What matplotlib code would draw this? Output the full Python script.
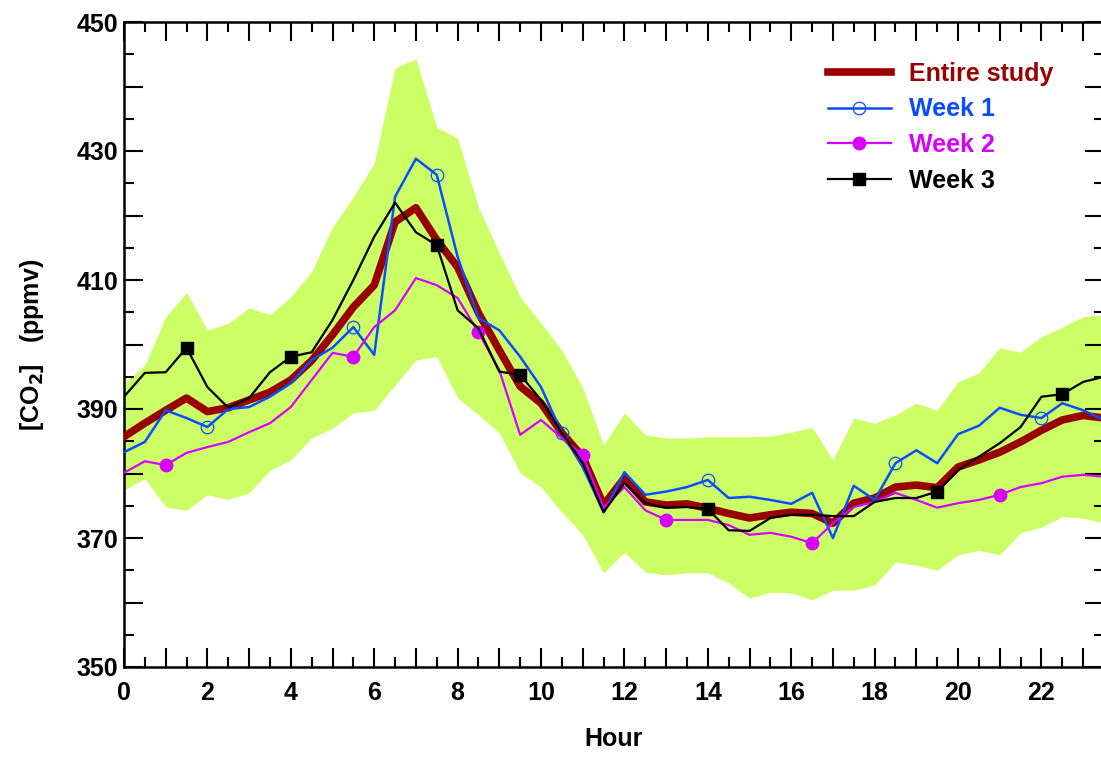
import numpy as np
import matplotlib.pyplot as plt
from matplotlib.ticker import MultipleLocator, FuncFormatter

# half-hour steps, 0 .. 23.5
hours = np.arange(48) * 0.5

entire = [385.7, 387.8, 389.8, 391.7, 389.6, 390.2, 391.4, 392.6, 394.5, 397.5,
          401.5, 405.8, 409.2, 419.0, 421.2, 416.2, 412.0, 404.9, 399.1, 393.5,
          390.9, 386.3, 382.6, 375.1, 379.3, 375.6, 375.1, 375.3, 374.6, 373.8,
          373.1, 373.6, 374.0, 373.8, 372.3, 375.4, 376.2, 377.9, 378.2, 377.8,
          381.0, 382.1, 383.3, 384.9, 386.7, 388.3, 389.0, 388.6]

week1 = [383.3, 384.9, 389.8, 388.6, 387.2, 390.0, 390.3, 391.9, 394.0, 397.6,
         399.5, 402.7, 398.4, 422.9, 428.8, 426.3, 413.6, 404.1, 402.2, 398.1,
         393.4, 386.3, 381.0, 374.0, 380.2, 376.7, 377.2, 377.9, 379.0, 376.2,
         376.4, 375.9, 375.3, 377.0, 370.0, 378.1, 375.9, 381.6, 383.6, 381.6,
         386.1, 387.4, 390.2, 389.1, 388.6, 390.9, 389.8, 388.3]

week2 = [380.1, 381.9, 381.3, 383.2, 384.1, 384.9, 386.4, 387.8, 390.3, 394.5,
         398.7, 398.1, 402.7, 405.3, 410.3, 409.2, 407.2, 401.9, 396.0, 386.0,
         388.3, 385.5, 382.9, 374.7, 377.9, 374.3, 372.8, 372.8, 372.8, 372.0,
         370.5, 370.8, 370.2, 369.2, 372.3, 374.8, 375.6, 377.0, 375.9, 374.7,
         375.4, 375.9, 376.7, 377.9, 378.5, 379.5, 379.8, 379.5]

week3 = [391.9, 395.6, 395.7, 399.5, 393.4, 390.2, 391.7, 395.7, 398.1, 398.8,
         403.8, 410.0, 416.7, 422.0, 417.4, 415.4, 405.3, 402.5, 395.8, 395.3,
         391.4, 386.3, 381.6, 374.0, 378.5, 375.4, 374.7, 374.8, 374.5, 371.2,
         371.1, 373.1, 373.6, 373.6, 373.4, 373.4, 375.6, 376.2, 376.2, 377.2,
         380.5, 382.6, 384.7, 387.2, 391.9, 392.3, 394.2, 395.0]

band_hi = [394.0, 396.8, 404.3, 408.1, 402.2, 403.3, 405.7, 404.6, 407.4, 411.3,
           418.2, 422.9, 428.1, 442.9, 444.3, 433.7, 432.0, 421.3, 414.2, 407.4,
           403.3, 399.1, 393.3, 384.4, 389.4, 386.0, 385.5, 385.5, 385.7, 385.7,
           385.7, 385.8, 386.4, 387.2, 382.1, 388.6, 387.8, 389.1, 390.9, 389.8,
           394.2, 395.6, 399.5, 398.8, 401.2, 402.7, 404.3, 404.6]

band_lo = [377.4, 379.2, 374.8, 374.3, 376.7, 376.0, 377.0, 380.5, 382.1, 385.5,
           387.0, 389.4, 389.8, 393.7, 397.6, 398.1, 391.7, 389.1, 386.3, 380.1,
           377.9, 374.0, 370.5, 364.6, 367.8, 364.7, 364.3, 364.6, 364.6, 363.0,
           360.7, 361.6, 361.5, 360.4, 361.9, 361.9, 362.7, 366.3, 365.8, 365.0,
           367.4, 368.1, 367.4, 370.8, 371.7, 373.3, 373.1, 372.3]

# which points carry a symbol
mark1 = [4, 11, 15, 21, 28, 37, 44]
mark2 = [2, 11, 17, 22, 26, 33, 42]
mark3 = [3, 8, 15, 19, 28, 39, 45]

plt.rcParams['font.family'] = ['Liberation Sans', 'DejaVu Sans']
plt.rcParams['font.weight'] = 'bold'

fig = plt.figure(figsize=(11.01, 7.57), dpi=100)
ax = fig.add_axes([124 / 1101, 90 / 757, 980 / 1101, 645 / 757])

ax.fill_between(hours, band_lo, band_hi, color='#ccff66', linewidth=0)

ax.plot(hours, entire, color='#990000', lw=5.5, label='Entire study', zorder=3)
ax.plot(hours, week1, color='#0a4dff', lw=1.8, marker='o', mfc='none',
        mec='#0a4dff', ms=9, mew=0.9, markevery=mark1, label='Week 1', zorder=4)
ax.plot(hours, week2, color='#d800ff', lw=1.6, marker='o', ms=9,
        markevery=mark2, label='Week 2', zorder=4)
ax.plot(hours, week3, color='black', lw=1.6, marker='s', ms=8.5,
        markevery=mark3, label='Week 3', zorder=5)

ax.set_xlim(0, 23.5)
ax.set_ylim(350, 450)

ax.xaxis.set_major_locator(MultipleLocator(1))
ax.xaxis.set_minor_locator(MultipleLocator(0.5))
ax.yaxis.set_major_locator(MultipleLocator(10))
ax.yaxis.set_minor_locator(MultipleLocator(5))
ax.xaxis.set_major_formatter(FuncFormatter(lambda v, p: '%d' % v if int(round(v)) % 2 == 0 else ''))
ax.yaxis.set_major_formatter(FuncFormatter(lambda v, p: '%d' % v if int(round(v)) % 20 == 10 else ''))

ax.tick_params(which='both', direction='in', top=True, right=True, width=1.5,
               labelsize=18)
ax.tick_params(axis='y', pad=4)
ax.tick_params(axis='x', pad=10)
ax.tick_params(which='major', length=14)
ax.tick_params(which='minor', length=7)
for s in ax.spines.values():
    s.set_linewidth(1.8)

ax.set_xlabel('Hour', fontsize=18, fontweight='bold', labelpad=16)
ax.set_ylabel(r'[CO$_\mathbf{2}$]   (ppmv)', fontsize=18, fontweight='bold', labelpad=22)

leg = ax.legend(loc='upper left', bbox_to_anchor=(828 / 1101, 1 - 62 / 757),
                bbox_transform=fig.transFigure, frameon=False, fontsize=18,
                handlelength=2.5, handletextpad=0.75, labelspacing=0.46,
                labelcolor='linecolor', borderaxespad=0, borderpad=0)

fig.savefig('out.png', dpi=100)
